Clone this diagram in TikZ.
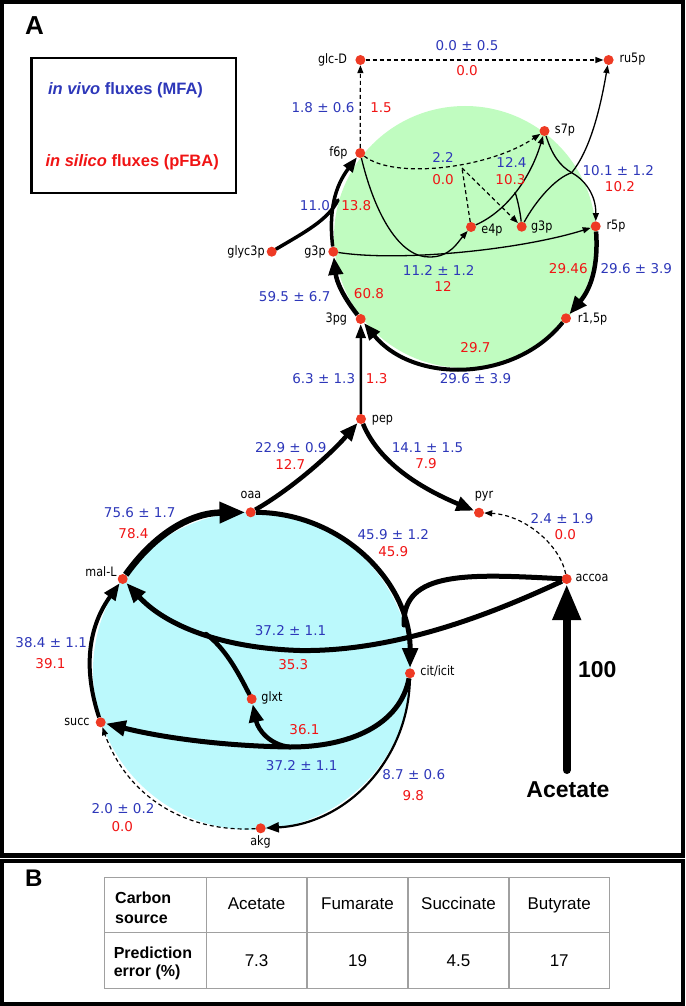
\documentclass[tikz,border=0pt]{standalone}
\usepackage{fontspec}
\setmainfont{Liberation Sans}
\newfontfamily\labfont[FakeStretch=0.86]{DejaVu Sans}
\newfontfamily\numfont{DejaVu Sans}
\usetikzlibrary{arrows.meta,backgrounds}
\definecolor{dotred}{RGB}{238,58,36}
\definecolor{fblue}{RGB}{45,55,185}
\definecolor{fred}{RGB}{240,20,20}
\definecolor{greenfill}{RGB}{192,252,192}
\definecolor{cyanfill}{RGB}{187,249,252}
\definecolor{tablegray}{RGB}{160,160,160}
\begin{document}
\begin{tikzpicture}[x=1pt,y=-1pt,
  met/.style={circle,fill=dotred,inner sep=0pt,minimum size=10pt},
  lab/.style={font=\labfont\fontsize{13}{15}\selectfont,inner sep=0pt,anchor=mid},
  vb/.style={font=\numfont\fontsize{13.5}{16}\selectfont,text=fblue,inner sep=0pt},
  vr/.style={font=\numfont\fontsize{13.5}{16}\selectfont,text=fred,inner sep=0pt},
  dasharr/.style={line width=1.2pt,dash pattern=on 4pt off 3pt,-{Triangle[length=8pt,width=6pt]}},
  dashln/.style={line width=1.2pt,dash pattern=on 4pt off 3pt},
  tharr/.style={line width=1.3pt,-{Triangle[length=8pt,width=6pt]}},
  thln/.style={line width=1.3pt},
  wa22/.style={line width=2.2pt,-{Triangle[length=13pt,width=10pt]}},
  wa25/.style={line width=2.5pt,-{Triangle[length=14pt,width=10pt]}},
  wa35/.style={line width=3.5pt,-{Triangle[length=15pt,width=11pt]}},
  wa4/.style={line width=4pt,-{Triangle[length=17pt,width=13pt]}},
  wa45/.style={line width=4.5pt,-{Triangle[length=18pt,width=14pt]}},
  wa5/.style={line width=5pt,-{Triangle[length=20pt,width=15pt]}},
  wa65/.style={line width=6.5pt,-{Triangle[length=26pt,width=20pt]}},
  wl/.style={line width=#1,line cap=round},
  bigarr/.style={line width=8pt,line cap=round,-{Triangle[length=36pt,width=27pt]}},
  tabtxt/.style={font=\fontsize{17}{20}\selectfont,inner sep=0pt,anchor=base},
  tabhd/.style={font=\bfseries\fontsize{16}{20}\selectfont,inner sep=0pt,anchor=base west},
  bigtxt/.style={font=\bfseries\fontsize{23}{26}\selectfont,inner sep=0pt}
]
\useasboundingbox (0,0) rectangle (685,1006);

% frames
\draw[line width=4.2pt] (2.1,2.1) rectangle (682.8,855.5);
\draw[line width=4.2pt] (2.1,861) rectangle (682.8,1003.9);
\node[font=\bfseries\fontsize{26}{28}\selectfont,inner sep=0pt] (panA) at (34.5,25.8) {A};
\node[font=\bfseries\fontsize{24}{26}\selectfont,inner sep=0pt] (panB) at (33.9,878.3) {B};

% legend
\draw[line width=2.5pt] (31.5,58) rectangle (236,193);
\node[font=\bfseries\fontsize{16.5}{19}\selectfont,text=fblue,inner sep=0pt] (legA) at (125.5,90) {{\itshape in vivo} fluxes (MFA)};
\node[font=\bfseries\fontsize{16.5}{19}\selectfont,text=fred,inner sep=0pt] (legB) at (132.2,162.5) {{\itshape in silico} fluxes (pFBA)};

% metabolites
\node[met] (glcD) at (360.4,60) {};
\node[met] (ru5p) at (608.6,60) {};
\node[met] (f6p) at (360.2,153) {};
\node[met] (s7p) at (544.5,131) {};
\node[met] (e4p) at (471,227) {};
\node[met] (g3pR) at (521.7,226.7) {};
\node[met] (r5p) at (595.7,226.3) {};
\node[met] (g3pL) at (333.3,251.7) {};
\node[met] (glyc3p) at (271.7,251.7) {};
\node[met] (pgthree) at (360.7,319) {};
\node[met] (r15p) at (566,318.3) {};
\node[met] (pep) at (361,419) {};
\node[met] (oaa) at (250.7,512.3) {};
\node[met] (pyr) at (479,512.7) {};
\node[met] (accoa) at (566.7,579) {};
\node[met] (malL) at (122.7,579) {};
\node[met] (cit) at (410,673.3) {};
\node[met] (glxt) at (251.7,699) {};
\node[met] (succ) at (100.7,722.3) {};
\node[met] (akg) at (260.7,828.3) {};

% metabolite labels
\node[lab] (lglcD) at (332.5,60.5) {glc-D};
\node[lab] (lru5p) at (632.5,60) {ru5p};
\node[lab] (lf6p) at (338.4,154) {f6p};
\node[lab] (ls7p) at (565,130.5) {s7p};
\node[lab] (le4p) at (492,230.5) {e4p};
\node[lab] (lg3pR) at (541.7,228) {g3p};
\node[lab] (lr5p) at (616,226.5) {r5p};
\node[lab] (lg3pL) at (315,252.5) {g3p};
\node[lab] (lglyc) at (246,253) {glyc3p};
\node[lab] (lpg) at (336.3,320) {3pg};
\node[lab] (lr15p) at (592.5,319.5) {r1,5p};
\node[lab] (lpep) at (382.5,419.5) {pep};
\node[lab] (loaa) at (251,496) {oaa};
\node[lab] (lpyr) at (484,495.5) {pyr};
\node[lab] (laccoa) at (592,579) {accoa};
\node[lab] (lmalL) at (101,573.5) {mal-L};
\node[lab] (lcit) at (437.5,673) {cit/icit};
\node[lab] (lglxt) at (272,699) {glxt};
\node[lab] (lsucc) at (77,723) {succ};
\node[lab] (lakg) at (260.5,843) {akg};

% flux values
\node[vb] (n1) at (467,46) {0.0 ± 0.5};
\node[vr] (n2) at (467,71) {0.0};
\node[vb] (n3) at (323,108) {1.8 ± 0.6};
\node[vr] (n4) at (381,108) {1.5};
\node[vb] (n5) at (443,157.5) {2.2};
\node[vr] (n6) at (443,180) {0.0};
\node[vb] (n7) at (511.5,162) {12.4};
\node[vr] (n8) at (510.5,180) {10.3};
\node[vb] (n9) at (618.3,170.5) {10.1 ± 1.2};
\node[vr] (n10) at (620,187) {10.2};
\node[vb] (n11) at (315,205.5) {11.0};
\node[vr] (n12) at (356.3,205.5) {13.8};
\node[vb] (n13) at (438.7,270.3) {11.2 ± 1.2};
\node[vr] (n14) at (443,286.2) {12};
\node[vb] (n15) at (294.7,297) {59.5 ± 6.7};
\node[vr] (n16) at (369,294) {60.8};
\node[vr] (n17) at (568.3,269) {29.46};
\node[vb] (n18) at (636.3,269) {29.6 ± 3.9};
\node[vr] (n19) at (475.5,347.5) {29.7};
\node[vb] (n20) at (475.5,379) {29.6 ± 3.9};
\node[vb] (n21) at (323.7,379) {6.3 ± 1.3};
\node[vr] (n22) at (376.7,379) {1.3};
\node[vb] (n23) at (290.8,447.5) {22.9 ± 0.9};
\node[vr] (n24) at (290.3,464) {12.7};
\node[vb] (n25) at (427.5,447.5) {14.1 ± 1.5};
\node[vr] (n26) at (426,464) {7.9};
\node[vb] (n27) at (139.7,512.5) {75.6 ± 1.7};
\node[vr] (n28) at (133.5,533.5) {78.4};
\node[vb] (n29) at (393.3,535) {45.9 ± 1.2};
\node[vr] (n30) at (393.3,551.7) {45.9};
\node[vb] (n31) at (562,519) {2.4 ± 1.9};
\node[vr] (n32) at (565.3,535) {0.0};
\node[vb] (n33) at (51.2,642.5) {38.4 ± 1.1};
\node[vr] (n34) at (50.5,664) {39.1};
\node[vb] (n35) at (290.5,631) {37.2 ± 1.1};
\node[vr] (n36) at (293.3,664.5) {35.3};
\node[vr] (n37) at (304.5,730) {36.1};
\node[vb] (n38) at (301.7,766) {37.2 ± 1.1};
\node[vb] (n39) at (123,809) {2.0 ± 0.2};
\node[vr] (n40) at (122.3,826.5) {0.0};
\node[vb] (n41) at (413.7,774.5) {8.7 ± 0.6};
\node[vr] (n42) at (413.3,795.5) {9.8};
\node[bigtxt] (hundred) at (597.3,670) {100};
\node[bigtxt] (acetate) at (568,790) {Acetate};

% helper points
\coordinate (J2) at (462,168);
\coordinate (J) at (571.7,172.7);
\coordinate (K1) at (430,257);
\coordinate (K2) at (515,192);
\coordinate (M3) at (338,200);
\coordinate (M4) at (404,625);
\coordinate (M1) at (300,650.5);
\coordinate (M5) at (206,634);
\coordinate (M6) at (290,747);
\coordinate (acsrc) at (566.7,770);

\begin{scope}[on background layer]
\fill[greenfill] (465,237) circle (131pt);
\fill[cyanfill] (252,671) circle (159pt);

% pentose phosphate part
\draw[dasharr] (f6p) -- (glcD);
\draw[dasharr] (glcD) -- (ru5p);
\draw[dasharr] (f6p) .. controls (395,180) and (490,168) .. (s7p);
\draw[dashln] (e4p) -- (J2);
\draw[dasharr] (J2) -- (g3pR);
\draw[tharr] (f6p) .. controls (375,215) and (400,258) .. (K1) .. controls (450,257) and (458,242) .. (e4p);
\draw[tharr] (g3pL) .. controls (400,262) and (520,250) .. (r5p);
\draw[tharr] (e4p) .. controls (505,212) and (530,180) .. (s7p);
\draw[thln] (g3pR) .. controls (520,210) and (517,198) .. (K2);
\draw[tharr] (s7p) .. controls (552,155) and (560,166) .. (J) .. controls (585,180) and (596,195) .. (r5p);
\draw[tharr] (g3pR) .. controls (535,202) and (555,178) .. (J) .. controls (590,150) and (600,110) .. (ru5p);

% upper cycle
\draw[wa45] (pgthree) to[bend left=16] (g3pL);
\draw[wa35] (g3pL) to[bend left=22] (f6p);
\draw[wl=3.5pt] (glyc3p) .. controls (305,232) and (328,220) .. (M3);
\draw[wa45] (r5p) to[bend left=22] (r15p);
\draw[wa4] (r15p) to[bend left=51] (pgthree);

% middle
\draw[wa25] (pep) -- (pgthree);
\draw[wa45] (oaa) .. controls (290,490) and (330,455) .. (pep);
\draw[wa45] (pep) .. controls (380,465) and (425,490) .. (pyr);
\draw[dasharr] (accoa) .. controls (560,545) and (525,515) .. (pyr);
\draw[bigarr] (acsrc) -- (accoa);

% lower cycle
\draw[wa65] (malL) to[bend left=27] (oaa);
\draw[wa5] (oaa) to[bend left=45] (cit);
\draw[wa4] (succ) to[bend left=27] (malL);
\draw[dasharr] (akg) to[bend left=37] (succ);
\draw[wa22] (cit) to[bend left=43] (akg);
\draw[wl=5pt] (accoa) .. controls (470,574) and (402,570) .. (M4);
\draw[wa5] (accoa) .. controls (500,610) and (400,652) .. (M1) .. controls (220,648) and (165,625) .. (malL);
\draw[wl=4.5pt] (glxt) .. controls (238,672) and (225,648) .. (M5);
\draw[wa5] (cit) .. controls (400,725) and (350,747) .. (M6) .. controls (220,746) and (160,737) .. (succ);
\draw[wa45] (M6) .. controls (270,745) and (258,730) .. (glxt);
\end{scope}

% table (panel B)
\draw[tablegray,line width=1.3pt] (104.8,877.7) rectangle (609.4,988.3);
\draw[tablegray,line width=1.3pt] (104.8,932.7) -- (609.4,932.7);
\foreach \cx in {206.2,307.1,408,509} \draw[tablegray,line width=1.3pt] (\cx,877.7) -- (\cx,988.3);
\node[tabhd] (hc1) at (115,903.3) {Carbon};
\node[tabhd] (hc2) at (115,923) {source};
\node[tabhd] (hp1) at (113.6,958.3) {Prediction};
\node[tabhd] (hp2) at (113.6,976) {error (\%)};
\node[tabtxt] (c1) at (256.6,909.5) {Acetate};
\node[tabtxt] (c2) at (357.5,909.5) {Fumarate};
\node[tabtxt] (c3) at (458.5,909.5) {Succinate};
\node[tabtxt] (c4) at (559.2,909.5) {Butyrate};
\node[tabtxt] (v1) at (256.6,966.5) {7.3};
\node[tabtxt] (v2) at (357.5,966.5) {19};
\node[tabtxt] (v3) at (458.5,966.5) {4.5};
\node[tabtxt] (v4) at (559.2,966.5) {17};
\end{tikzpicture}
\end{document}
